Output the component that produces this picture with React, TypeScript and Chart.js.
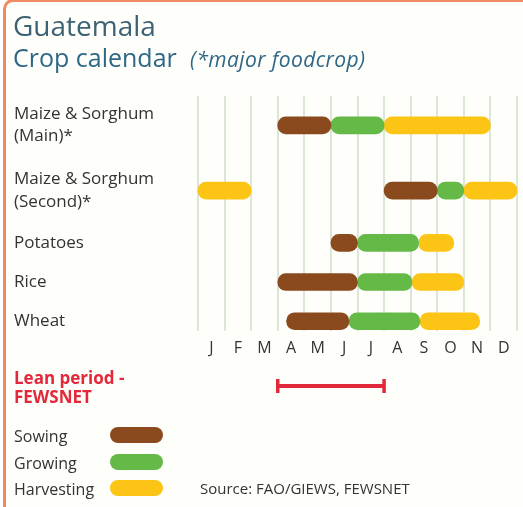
import React, { useEffect, useRef } from "react";
import { Chart, registerables } from "chart.js";

Chart.register(...registerables);

// ---------- data ----------
const CROPS: string[][] = [
  ["Maize & Sorghum", "(Main)*"],
  ["Maize & Sorghum", "(Second)*"],
  ["Potatoes"],
  ["Rice"],
  ["Wheat"],
];
const MONTHS = ["J", "F", "M", "A", "M", "J", "J", "A", "S", "O", "N", "D"];
// month index ranges (0 = start of January, 12 = end of December)
const SOWING: ([number, number] | null)[] = [[3, 5], [7, 9], [5, 6], [3, 6], [3.33, 5.68]];
const GROWING: ([number, number] | null)[] = [[5, 7], [9, 10], [6, 8.3], [6, 8.05], [5.68, 8.35]];
const HARVESTING: ([number, number] | null)[] = [[7, 11], [0, 2], [8.3, 9.62], [8.05, 10], [8.35, 10.6]];
const HARVESTING_2: ([number, number] | null)[] = [null, [10, 12], null, null, null];
const LEAN_PERIOD: [number, number] = [3, 7];
const STAGES = ["Sowing", "Growing", "Harvesting"];

// ---------- style ----------
const C_SOW = "#8a4a1e";
const C_GROW = "#64b947";
const C_HARV = "#fcc414";
const C_RED = "#e2283a";
const FONT = '"Open Sans", sans-serif';
const STAGE_COLORS = [C_SOW, C_GROW, C_HARV];

// layout: row height in slot units depends on number of label lines
const rowUnits = (lines: number) => 2 + 4 * lines;
const LEAD_SLOTS = 4;

function buildSlots() {
  const pos: number[] = [];
  let p = LEAD_SLOTS;
  CROPS.forEach((c, i) => {
    if (i > 0) p += (rowUnits(CROPS[i - 1].length) + rowUnits(c.length)) / 2;
    pos.push(p);
  });
  const total = p + 2;
  const labels: (string | string[])[] = Array.from({ length: total }, () => "");
  pos.forEach((s, i) => (labels[s] = CROPS[i]));
  return { pos, total, labels };
}

const leanPlugin = {
  id: "leanPeriod",
  afterDraw(chart: any) {
    const xs = chart.scales.x;
    const { ctx, chartArea } = chart;
    const x0 = xs.getPixelForValue(LEAN_PERIOD[0]);
    const x1 = xs.getPixelForValue(LEAN_PERIOD[1]);
    const y = chartArea.bottom + 55;
    ctx.save();
    ctx.strokeStyle = C_RED;
    ctx.lineWidth = 4;
    ctx.beginPath();
    ctx.moveTo(x0, y);
    ctx.lineTo(x1, y);
    ctx.stroke();
    ctx.lineWidth = 3.5;
    ctx.beginPath();
    ctx.moveTo(x0, y - 7);
    ctx.lineTo(x0, y + 7);
    ctx.moveTo(x1, y - 7);
    ctx.lineTo(x1, y + 7);
    ctx.stroke();
    ctx.restore();
  },
};

export default function App() {
  const ref = useRef<HTMLCanvasElement | null>(null);

  useEffect(() => {
    document.body.style.margin = "0";
    const { pos, total, labels } = buildSlots();
    const toSlots = (arr: ([number, number] | null)[]) => {
      const out: ([number, number] | null)[] = Array.from({ length: total }, () => null);
      pos.forEach((s, i) => (out[s] = arr[i]));
      return out;
    };
    const mk = (label: string, data: ([number, number] | null)[], color: string) => ({
      label,
      data: toSlots(data),
      backgroundColor: color,
      borderWidth: 0,
      borderRadius: 9,
      borderSkipped: false,
      barThickness: 17,
      grouped: false,
      clip: false,
    });
    const chart = new Chart(ref.current as HTMLCanvasElement, {
      type: "bar",
      data: {
        labels,
        datasets: [
          mk(STAGES[0], SOWING, C_SOW),
          mk(STAGES[1], GROWING, C_GROW),
          mk(STAGES[2], HARVESTING, C_HARV),
          mk(STAGES[2], HARVESTING_2, C_HARV),
        ] as any,
      },
      options: {
        indexAxis: "y",
        animation: false,
        responsive: false,
        layout: { padding: { left: 14, right: 6, top: 96, bottom: 150 } },
        plugins: { legend: { display: false }, tooltip: { enabled: false }, title: { display: false } },
        scales: {
          x: { type: "linear", min: 0, max: 12, display: false },
          months: {
            type: "category",
            axis: "x",
            position: "bottom",
            labels: MONTHS,
            offset: true,
            grid: { offset: true, color: "#dbe6d6", lineWidth: 2, drawTicks: false },
            border: { display: false },
            ticks: { font: { family: FONT, size: 16 }, color: "#333333", padding: 8, maxRotation: 0, autoSkip: false },
            afterFit: (s: any) => {
              s.height = 26;
            },
          } as any,
          y: {
            type: "category",
            offset: true,
            grid: { display: false },
            border: { display: false },
            ticks: {
              autoSkip: false,
              crossAlign: "far",
              font: { family: FONT, size: 17, lineHeight: 1.3 },
              color: "#333333",
            },
            afterFit: (s: any) => {
              s.width = 184;
            },
          } as any,
        },
      },
      plugins: [leanPlugin],
    });
    return () => chart.destroy();
  }, []);

  const text = (style: React.CSSProperties, children: React.ReactNode) => (
    <div style={{ position: "absolute", whiteSpace: "nowrap", fontFamily: FONT, ...style }}>{children}</div>
  );

  return (
    <div style={{ position: "relative", width: 523, height: 507, background: "#ffffff", overflow: "hidden" }}>
      <div
        style={{
          position: "absolute",
          left: 3,
          top: -1,
          width: 600,
          height: 600,
          borderTop: "3px solid #ef8b62",
          borderLeft: "3px solid #ef8b62",
          borderTopLeftRadius: 10,
          background: "#fefefb",
        }}
      />
      <canvas ref={ref} width={523} height={507} style={{ position: "absolute", left: 0, top: 0 }} />
      {text({ left: 13, top: 8, fontSize: 28, lineHeight: "34px", color: "#3d6274" }, "Guatemala")}
      {text({ left: 13, top: 42, fontSize: 25, lineHeight: "30px", color: "#2e6886" }, "Crop calendar")}
      {text(
        { left: 190, top: 45, fontSize: 21, lineHeight: "28px", color: "#2e6886", fontStyle: "italic", letterSpacing: 0.4 },
        "(*major foodcrop)"
      )}
      {text(
        { left: 14, top: 368, fontSize: 17, lineHeight: "19px", color: C_RED, fontWeight: 700 },
        <>
          Lean period -<br />
          FEWSNET
        </>
      )}
      {STAGES.map((s, i) => (
        <React.Fragment key={s}>
          {text({ left: 14, top: 425 + i * 26.5, fontSize: 16, lineHeight: "22px", color: "#333333" }, s)}
          <div
            style={{
              position: "absolute",
              left: 110,
              top: 427 + i * 26.5,
              width: 53,
              height: 16,
              borderRadius: 8,
              background: STAGE_COLORS[i],
            }}
          />
        </React.Fragment>
      ))}
      {text({ left: 200, top: 477, fontSize: 15, lineHeight: "22px", color: "#333333" }, "Source: FAO/GIEWS, FEWSNET")}
    </div>
  );
}
